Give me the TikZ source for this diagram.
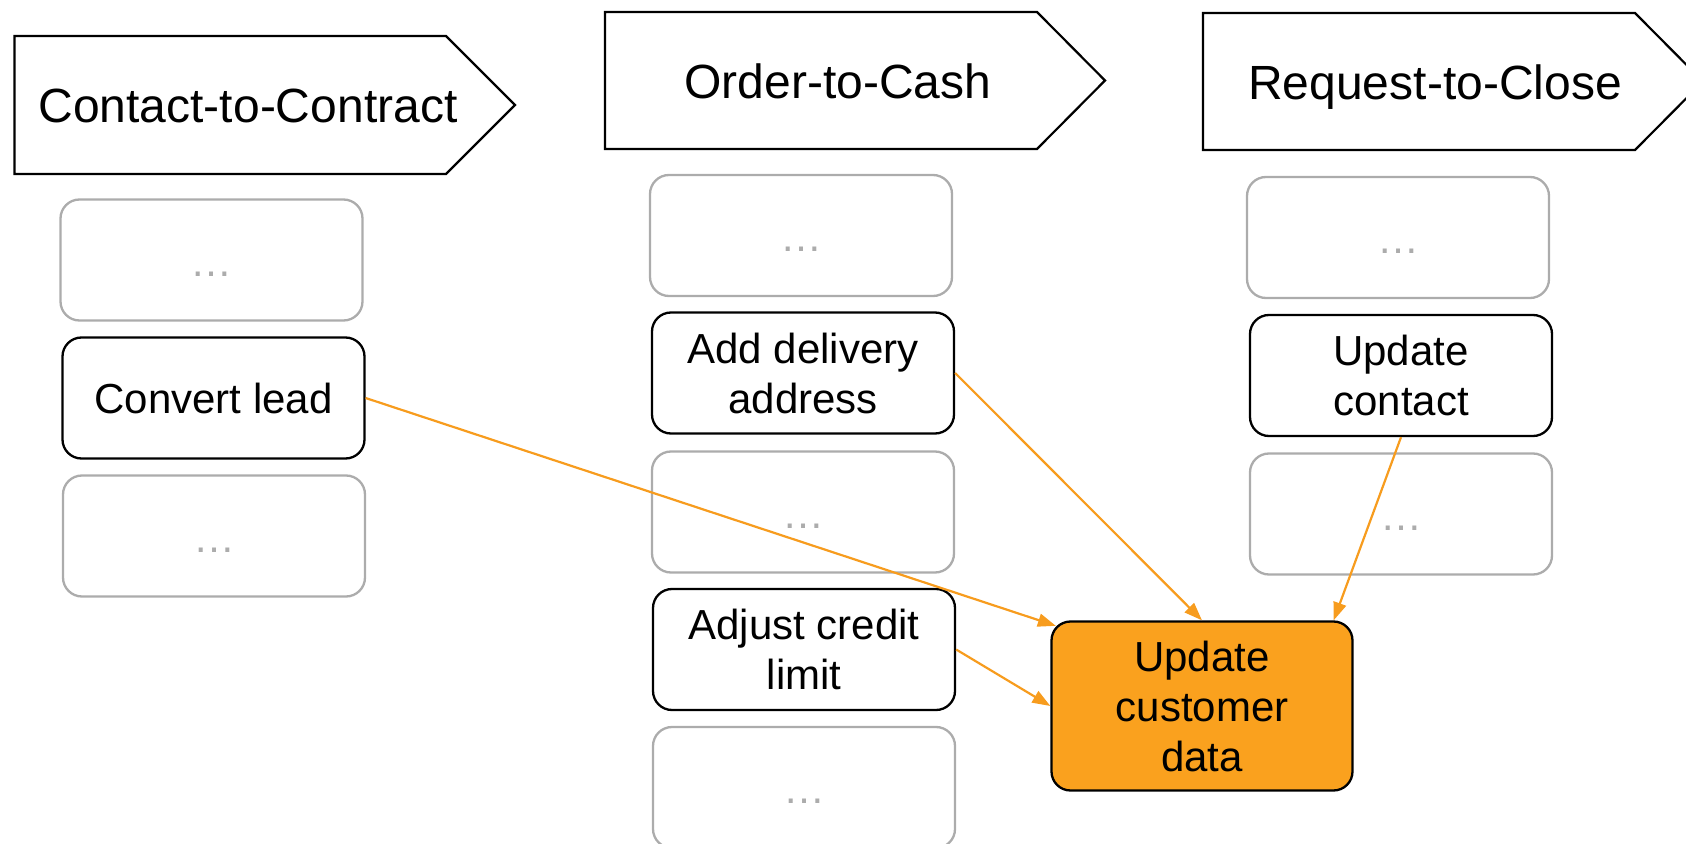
\documentclass[tikz,border=0pt]{standalone}
\usepackage{fontspec}
\setmainfont{Liberation Sans}
\usetikzlibrary{arrows.meta,calc}
\definecolor{accent}{RGB}{250,161,30}
\definecolor{accentline}{RGB}{247,156,30}
\definecolor{faint}{RGB}{172,172,172}
\newcommand{\moredots}{\vphantom{C}\raisebox{-1.6pt}{…}}
\begin{document}
\begin{tikzpicture}[x=0.5pt,y=-0.5pt,
  stage/.style={draw=black, line width=1.1pt, fill=white, line join=miter},
  stagetext/.style={font=\fontsize{24}{28}\selectfont, anchor=base, inner sep=0pt},
  task/.style={draw=black, line width=1.15pt, rounded corners=9.5pt,
    minimum width=151pt, minimum height=60.5pt, inner sep=0pt,
    align=center, font=\fontsize{21}{25}\selectfont, fill=white},
  other/.style={task, draw=faint, text=faint},
  goal/.style={task, fill=accent, minimum width=150.5pt, minimum height=84.5pt},
  link/.style={draw=accentline, line width=1.1pt, -{Triangle[length=9pt,width=6.5pt]}}
]
\useasboundingbox (0,0) rectangle (1686,844);
\clip (0,0) rectangle (1686,844);

% process stages (chevrons)
\draw[stage] (14.5,36) -- (446,36) -- (515,105) -- (446,174) -- (14.5,174) -- cycle;
\draw[stage] (605,12) -- (1037,12) -- (1105,80.5) -- (1037,149) -- (605,149) -- cycle;
\draw[stage] (1203,13) -- (1635,13) -- (1703,81.5) -- (1635,150) -- (1203,150) -- cycle;
\node[stagetext] (s1) at (248,123) {Contact-to-Contract};
\node[stagetext] (s2) at (838,98.5) {Order-to-Cash};
\node[stagetext] (s3) at (1435,99.5) {Request-to-Close};

% Contact-to-Contract steps
\node[other] (a1) at (211.5,260) {\moredots};
\node[task]  (cl) at (213.5,398) {Convert lead};
\node[other] (a2) at (214,536) {\moredots};

% Order-to-Cash steps
\node[other] (b1) at (801,235.5) {\moredots};
\node[task]  (ad) at (803,373) {Add delivery\\address};
\node[other] (b2) at (803,512) {\moredots};
\node[task]  (ac) at (804,649.5) {Adjust credit\\limit};
\node[other] (b3) at (804,787.5) {\moredots};

% Request-to-Close steps
\node[other] (c1) at (1398,237.5) {\moredots};
\node[task]  (uc) at (1401,375.5) {Update\\contact};
\node[other] (c2) at (1401,514) {\moredots};

% shared step
\node[goal] (upd) at (1202,706) {Update\\customer\\data};

% links
\draw[link] (cl.east) -- ($(upd.north west)+(5.5,5.5)$);
\draw[link] (ad.east) -- (upd.north);
\draw[link] (ac.east) -- (upd.west);
\draw[link] (uc.south) -- ($(upd.north east)+(-20,0)$);
\end{tikzpicture}
\end{document}
